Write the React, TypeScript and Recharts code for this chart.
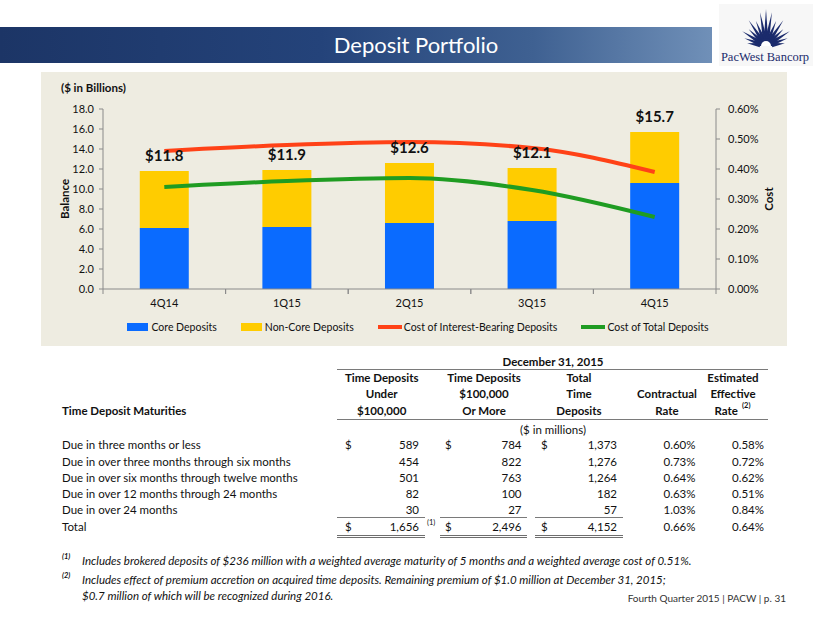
import React from 'react';
import { ComposedChart, Bar, Line, XAxis, YAxis, Legend, LabelList } from 'recharts';

// ---------- Chart data ----------
const quarters = ['4Q14', '1Q15', '2Q15', '3Q15', '4Q15'];
const coreDeposits = [6.1, 6.2, 6.6, 6.8, 10.6];
const nonCoreDeposits = [5.7, 5.7, 6.0, 5.3, 5.1];
const totalLabels = ['$11.8', '$11.9', '$12.6', '$12.1', '$15.7'];
const costInterestBearing = [0.46, 0.48, 0.49, 0.47, 0.39];
const costTotalDeposits = [0.34, 0.36, 0.37, 0.33, 0.24];
const balanceTicks = [0, 2, 4, 6, 8, 10, 12, 14, 16, 18];
const costTicks = [0, 0.1, 0.2, 0.3, 0.4, 0.5, 0.6];
const seriesNames = ['Core Deposits', 'Non-Core Deposits', 'Cost of Interest-Bearing Deposits', 'Cost of Total Deposits'];

// ---------- Table data ----------
const maturityRows = [
  'Due in three months or less',
  'Due in over three months through six months',
  'Due in over six months through twelve months',
  'Due in over 12 months through 24 months',
  'Due in over 24 months',
];
const under100k = ['589', '454', '501', '82', '30'];
const over100k = ['784', '822', '763', '100', '27'];
const totalTime = ['1,373', '1,276', '1,264', '182', '57'];
const contractualRate = ['0.60%', '0.73%', '0.64%', '0.63%', '1.03%'];
const effectiveRate = ['0.58%', '0.72%', '0.62%', '0.51%', '0.84%'];
const totalRow = ['1,656', '2,496', '4,152', '0.66%', '0.64%'];

const chartData = quarters.map((q, i) => ({
  quarter: q,
  core: coreDeposits[i],
  nonCore: nonCoreDeposits[i],
  label: totalLabels[i],
  costIB: costInterestBearing[i],
  costTotal: costTotalDeposits[i],
}));

const FONT = 'Lato, "Open Sans", sans-serif';
const BLUE = '#0A6BFF';
const YELLOW = '#FFCC00';
const RED = '#FF4217';
const GREEN = '#1F9C22';
const AXIS = '#8A8A8A';

const XTick = (props: any) => {
  const { x, y, payload } = props;
  let half = payload && typeof payload.offset === 'number' ? payload.offset : 0;
  if (!half && props.width && props.visibleTicksCount) half = props.width / props.visibleTicksCount / 2;
  return (
    <g>
      {half ? (
        <>
          <line x1={x - half} x2={x - half} y1={y} y2={y + 5} stroke={AXIS} />
          <line x1={x + half} x2={x + half} y1={y} y2={y + 5} stroke={AXIS} />
        </>
      ) : null}
      <text x={x} y={y + 13} textAnchor="middle" dominantBaseline="central" fontSize={11} fill="#111" fontFamily={FONT}>
        {payload.value}
      </text>
    </g>
  );
};

const TotalLabel = (props: any) => {
  const vb = props.viewBox || props;
  const x = (vb.x ?? props.x) + (vb.width ?? props.width) / 2;
  const y = vb.y ?? props.y;
  return (
    <text x={x} y={y - 16} textAnchor="middle" dominantBaseline="central" fontSize={15} fontWeight={700} fill="#111" fontFamily={FONT}>
      {props.value}
    </text>
  );
};

const LegendContent = (props: any) => {
  const payload = [...(props.payload || [])].sort(
    (a: any, b: any) => seriesNames.indexOf(a.value) - seriesNames.indexOf(b.value)
  );
  return (
    <div style={{ height: 22, display: 'flex', alignItems: 'center', justifyContent: 'center', fontFamily: FONT, fontSize: 10.5, color: '#111', paddingLeft: 8 }}>
      {payload.map((p: any, i: number) => (
        <div key={i} style={{ display: 'flex', alignItems: 'center', marginRight: i < payload.length - 1 ? 24 : 0 }}>
          {p.type === 'line' ? (
            <span style={{ display: 'inline-block', width: 24, height: 4, background: p.color, marginRight: 2 }} />
          ) : (
            <span style={{ display: 'inline-block', width: 21, height: 8, background: p.color, marginRight: 3 }} />
          )}
          <span>{p.value}</span>
        </div>
      ))}
    </div>
  );
};

const axisTitle = (text: string, dx: number) => (props: any) => {
  const vb = props.viewBox;
  if (!vb) return null;
  const x = vb.x + dx;
  const y = vb.y + vb.height / 2;
  return (
    <text x={x} y={y} transform={`rotate(-90, ${x}, ${y})`} textAnchor="middle" dominantBaseline="central" fontSize={11.5} fontWeight={700} fill="#111" fontFamily={FONT}>
      {text}
    </text>
  );
};

type TxtProps = { x: number; y: number; a?: 'left' | 'right' | 'center'; s?: number; b?: boolean; i?: boolean; c?: string; children: React.ReactNode };
const Txt = ({ x, y, a = 'left', s = 11.5, b = false, i = false, c = '#111', children }: TxtProps) => {
  const style: React.CSSProperties = {
    position: 'absolute', top: y - 8, height: 16, lineHeight: '16px', fontSize: s,
    fontWeight: b ? 700 : 400, fontStyle: i ? 'italic' : 'normal', color: c, whiteSpace: 'nowrap',
  };
  if (a === 'left') style.left = x;
  else if (a === 'right') style.right = 830 - x;
  else { style.left = x - 150; style.width = 300; style.textAlign = 'center'; }
  return <div style={style}>{children}</div>;
};

const HLine = ({ x1, x2, y, c = '#7a7a7a', t = 1 }: { x1: number; x2: number; y: number; c?: string; t?: number }) => (
  <div style={{ position: 'absolute', left: x1, width: x2 - x1, top: y, height: t, background: c }} />
);

const Logo = () => {
  const cx = 51, cy = 46;
  const rays = [
    [172, 19], [160, 23], [148, 28], [136, 24], [124, 31], [112, 27], [100, 34], [90, 37],
    [80, 34], [68, 27], [56, 31], [44, 24], [32, 28], [20, 23], [8, 19],
  ];
  return (
    <svg width={115} height={70} style={{ position: 'absolute', left: 715, top: 0 }}>
      <rect x={4} y={4} width={94} height={62} fill="#f7f7f7" />
      {rays.map(([ang, len], i) => {
        const r = (ang * Math.PI) / 180;
        const ux = Math.cos(r), uy = -Math.sin(r);
        const px = -uy, py = ux;
        const bx = cx + ux * 6, by = cy + uy * 6;
        const w = 2.2;
        const tx = cx + ux * len, ty = cy + uy * len;
        return <polygon key={i} points={`${bx + px * w},${by + py * w} ${bx - px * w},${by - py * w} ${tx},${ty}`} fill="#1B2B6C" />;
      })}
      <path d={`M ${cx - 8} ${cy} A 8 8 0 0 1 ${cx + 8} ${cy} Z`} fill="#1B2B6C" />
      <path d={`M ${cx - 5} ${cy} A 5 5 0 0 1 ${cx + 5} ${cy} Z`} fill="#ffffff" />
      <text x={50} y={61} textAnchor="middle" fontFamily='"Liberation Serif", "DejaVu Serif", serif' fontSize={12.5} fill="#1B2B6C">
        PacWest Bancorp
      </text>
    </svg>
  );
};

const rowY = [445, 461.5, 477.5, 493.5, 509.5];
const totalY = 527;

export default function App() {
  return (
    <div style={{ position: 'absolute', left: 0, top: 0, width: 830, height: 623, background: '#ffffff', overflow: 'hidden', fontFamily: FONT, color: '#111' }}>
      {/* Title bar */}
      <div style={{ position: 'absolute', left: 0, top: 27, width: 712, height: 36, background: 'linear-gradient(90deg, #1C3566 0%, #24437A 45%, #3F6192 75%, #7090B8 100%)' }} />
      <div style={{ position: 'absolute', left: 0, top: 27, width: 832, height: 36, lineHeight: '36px', textAlign: 'center', color: '#ffffff', fontSize: 22 }}>
        Deposit Portfolio
      </div>
      <Logo />

      {/* Chart panel */}
      <div style={{ position: 'absolute', left: 41, top: 72, width: 746, height: 274, background: '#EEECE1' }}>
        <ComposedChart width={746} height={274} data={chartData} margin={{ top: 37, right: 0, bottom: 8, left: 0 }} barCategoryGap="30%">
          <XAxis dataKey="quarter" xAxisId={0} height={27} axisLine={{ stroke: AXIS }} tickLine={false} tickSize={0} tickMargin={0} interval={0} tick={<XTick />} />
          <YAxis
            yAxisId="left"
            domain={[0, 18]}
            ticks={balanceTicks}
            interval={0}
            width={62}
            tickFormatter={(v: number) => v.toFixed(1)}
            axisLine={{ stroke: AXIS }}
            tickLine={{ stroke: AXIS }}
            tickSize={4}
            tickMargin={5}
            tick={{ fontSize: 11, fill: '#111', fontFamily: FONT }}
            label={{ content: axisTitle('Balance', 23) }}
          />
          <YAxis
            yAxisId="right"
            orientation="right"
            domain={[0, 0.6]}
            ticks={costTicks}
            interval={0}
            width={71}
            tickFormatter={(v: number) => `${v.toFixed(2)}%`}
            axisLine={{ stroke: AXIS }}
            tickLine={{ stroke: AXIS }}
            tickSize={4}
            tickMargin={8}
            tick={{ fontSize: 11, fill: '#111', fontFamily: FONT }}
            label={{ content: axisTitle('Cost', 52) }}
          />
          <Legend verticalAlign="bottom" content={<LegendContent />} />
          <Bar yAxisId="left" dataKey="core" stackId="a" fill={BLUE} name={seriesNames[0]} legendType="rect" isAnimationActive={false} />
          <Bar yAxisId="left" dataKey="nonCore" stackId="a" fill={YELLOW} name={seriesNames[1]} legendType="rect" isAnimationActive={false}>
            <LabelList dataKey="label" content={<TotalLabel />} />
          </Bar>
          <Line yAxisId="right" type="monotone" dataKey="costIB" stroke={RED} strokeWidth={4} dot={false} name={seriesNames[2]} legendType="line" isAnimationActive={false} />
          <Line yAxisId="right" type="monotone" dataKey="costTotal" stroke={GREEN} strokeWidth={4} dot={false} name={seriesNames[3]} legendType="line" isAnimationActive={false} />
        </ComposedChart>
        <div style={{ position: 'absolute', left: 20, top: 8, height: 16, lineHeight: '16px', fontSize: 11.5, fontWeight: 700 }}>($ in Billions)</div>
      </div>

      {/* Table */}
      <Txt x={553} y={362} a="center" b>December 31, 2015</Txt>
      <HLine x1={337} x2={768} y={369} />
      <Txt x={381.7} y={378} a="center" b>Time Deposits</Txt>
      <Txt x={381.7} y={394} a="center" b>Under</Txt>
      <Txt x={381.7} y={411} a="center" b>$100,000</Txt>
      <Txt x={484} y={378} a="center" b>Time Deposits</Txt>
      <Txt x={484} y={394} a="center" b>$100,000</Txt>
      <Txt x={484} y={411} a="center" b>Or More</Txt>
      <Txt x={579} y={378} a="center" b>Total</Txt>
      <Txt x={579} y={394} a="center" b>Time</Txt>
      <Txt x={579} y={411} a="center" b>Deposits</Txt>
      <Txt x={667} y={394} a="center" b>Contractual</Txt>
      <Txt x={667} y={411} a="center" b>Rate</Txt>
      <Txt x={733} y={378} a="center" b>Estimated</Txt>
      <Txt x={733} y={394} a="center" b>Effective</Txt>
      <Txt x={738} y={411} a="right" b>Rate</Txt>
      <Txt x={742} y={406} s={7.5} b>(2)</Txt>
      <Txt x={62} y={411} b>Time Deposit Maturities</Txt>
      <HLine x1={337} x2={768} y={419} />
      <Txt x={553} y={430} a="center">($ in millions)</Txt>

      {maturityRows.map((r, i) => (
        <React.Fragment key={r}>
          <Txt x={62} y={rowY[i]}>{r}</Txt>
          {i === 0 ? <Txt x={345} y={rowY[i]}>$</Txt> : null}
          {i === 0 ? <Txt x={445} y={rowY[i]}>$</Txt> : null}
          {i === 0 ? <Txt x={541} y={rowY[i]}>$</Txt> : null}
          <Txt x={419} y={rowY[i]} a="right">{under100k[i]}</Txt>
          <Txt x={521.5} y={rowY[i]} a="right">{over100k[i]}</Txt>
          <Txt x={617} y={rowY[i]} a="right">{totalTime[i]}</Txt>
          <Txt x={695.5} y={rowY[i]} a="right">{contractualRate[i]}</Txt>
          <Txt x={764} y={rowY[i]} a="right">{effectiveRate[i]}</Txt>
        </React.Fragment>
      ))}
      <HLine x1={337} x2={425} y={517} />
      <HLine x1={440} x2={527} y={517} />
      <HLine x1={535} x2={623} y={517} />
      <Txt x={62} y={totalY}>Total</Txt>
      <Txt x={345} y={totalY}>$</Txt>
      <Txt x={445} y={totalY}>$</Txt>
      <Txt x={541} y={totalY}>$</Txt>
      <Txt x={419} y={totalY} a="right">{totalRow[0]}</Txt>
      <Txt x={427} y={totalY - 4} s={7.5}>(1)</Txt>
      <Txt x={521.5} y={totalY} a="right">{totalRow[1]}</Txt>
      <Txt x={617} y={totalY} a="right">{totalRow[2]}</Txt>
      <Txt x={695.5} y={totalY} a="right">{totalRow[3]}</Txt>
      <Txt x={764} y={totalY} a="right">{totalRow[4]}</Txt>
      {[[337, 425], [440, 527], [535, 623]].map(([a, b], i) => (
        <React.Fragment key={i}>
          <HLine x1={a} x2={b} y={535} c="#6e6e6e" />
          <HLine x1={a} x2={b} y={537} c="#6e6e6e" />
        </React.Fragment>
      ))}

      {/* Footnotes */}
      <Txt x={62} y={557} s={7.5} b i>(1)</Txt>
      <Txt x={82} y={561} s={11.5} i>Includes brokered deposits of $236 million with a weighted average maturity of 5 months and a weighted average cost of 0.51%.</Txt>
      <Txt x={62} y={576} s={7.5} b i>(2)</Txt>
      <Txt x={82} y={580} s={11.5} i>Includes effect of premium accretion on acquired time deposits. Remaining premium of $1.0 million at December 31, 2015;</Txt>
      <Txt x={82} y={596} s={11.5} i>$0.7 million of which will be recognized during 2016.</Txt>
      <Txt x={786} y={598} a="right" s={10} c="#333">Fourth Quarter 2015 | PACW | p. 31</Txt>
    </div>
  );
}
